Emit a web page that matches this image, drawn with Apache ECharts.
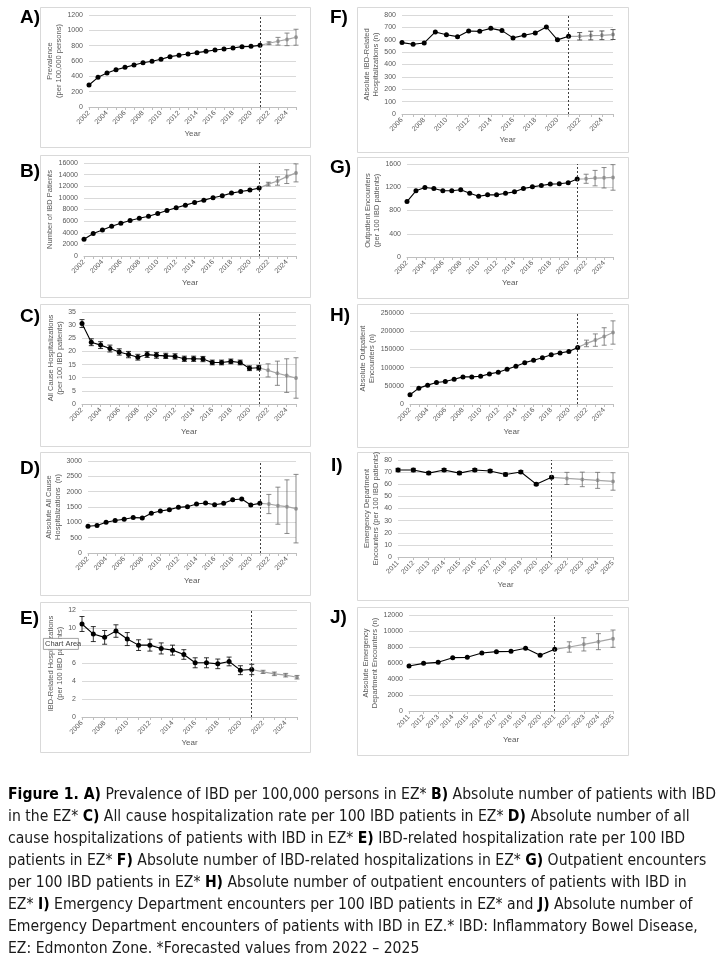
<!DOCTYPE html>
<html>
<head>
<meta charset="utf-8">
<script src="https://cdn.jsdelivr.net/npm/echarts@6/dist/echarts.min.js"></script>
<style>
  html, body { margin: 0; padding: 0; background: #fff; }
  #app { width: 720px; height: 960px; }
</style>
</head>
<body>
<div id="app"></div>
<script>
// year categories
var yrs2002 = ['2002','2003','2004','2005','2006','2007','2008','2009','2010','2011','2012','2013',
  '2014','2015','2016','2017','2018','2019','2020','2021','2022','2023','2024','2025'];
var yrs2006 = ['2006','2007','2008','2009','2010','2011','2012','2013','2014','2015','2016','2017',
  '2018','2019','2020','2021','2022','2023','2024','2025'];
var yrs2011 = ['2011','2012','2013','2014','2015','2016','2017','2018','2019','2020','2021',
  '2022','2023','2024','2025'];

// A) prevalence per 100,000
var prevObs = [287,387,443,487,517,548,578,596,622,657,674,691,709,726,743,757,770,787,791,804];
var prevFc = [832,858,882,910];
var prevFcErr = [18,50,82,104];

// B) number of IBD patients
var patObs = [2880,3860,4490,5120,5640,6100,6500,6850,7310,7830,8290,8750,9210,9610,10010,10360,10820,11110,11340,11680];
var patFc = [12370,12900,13650,14300];
var patFcErr = [320,720,1180,1550];

// C) all cause hospitalizations per 100 patients
var achObs = [30.6,23.5,22.4,21.1,19.8,18.8,17.8,18.8,18.5,18.3,18.1,17.2,17.2,17.1,15.8,15.8,16.2,15.8,13.6,13.8];
var achObsErr = [1.5,1.3,1.3,1.3,1.2,1.2,1.1,1.1,1.1,1.0,1.0,1.0,1.0,1.0,0.9,0.9,0.9,0.9,0.9,0.9];
var achFc = [12.8,11.7,10.8,9.9];
var achFcErr = [2.5,4.6,6.4,7.7];

// D) absolute all cause hospitalizations
var achnObs = [874,896,1004,1058,1101,1155,1144,1295,1371,1414,1489,1511,1597,1629,1576,1619,1737,1759,1565,1619];
var achnFc = [1597,1543,1511,1446];
var achnFcErr = [313,604,874,1117];

// E) IBD-related hospitalizations per 100 patients
var ibdhObs = [10.43,9.3,8.93,9.64,8.74,8.06,8.06,7.69,7.5,7.01,6.08,6.08,5.96,6.23,5.25,5.33];
var ibdhObsErr = [0.84,0.84,0.77,0.7,0.73,0.6,0.67,0.62,0.56,0.54,0.56,0.56,0.54,0.49,0.5,0.58];
var ibdhFc = [5.06,4.84,4.69,4.46];
var ibdhFcErr = [0.18,0.2,0.2,0.2];

// F) absolute IBD-related hospitalizations
var ibdhnObs = [577,564,574,663,641,625,671,668,692,674,615,636,655,703,599,628];
var ibdhnFc = [628,634,636,642];
var ibdhnFcErr = [30,35,35,40];

// G) outpatient encounters per 100 patients
var opObs = [954,1139,1196,1179,1139,1139,1156,1098,1045,1069,1069,1098,1121,1179,1207,1231,1254,1259,1277,1340];
var opFc = [1346,1357,1363,1369];
var opFcErr = [78,133,176,220];

// H) absolute outpatient encounters
var opnObs = [25500,43600,51800,59100,61800,68200,74500,74500,76400,82700,87300,95500,103600,113600,120000,127300,135500,140000,144500,155500];
var opnFc = [166400,175500,185500,196400];
var opnFcErr = [9000,17000,24000,32000];

// I) ED encounters per 100 patients
var edObs = [71.7,71.7,69.2,71.7,69.2,71.7,70.9,68.1,70.1,60.1,65.7];
var edObsErr = [1.4,1.4,1.3,1.3,1.3,1.3,1.3,1.2,1.2,1.0,1.0];
var edFc = [64.8,64.0,63.2,62.3];
var edFcErr = [5.0,6.0,6.6,7.2];

// J) absolute ED encounters
var ednObs = [5625,5958,6083,6667,6708,7250,7417,7458,7833,6958,7708];
var ednFc = [8000,8333,8667,9042];
var ednFcErr = [650,830,1000,1080];

var captionLines = [
  '{b|Figure 1. A)} Prevalence of IBD per 100,000 persons in EZ* {b|B)} Absolute number of patients with IBD',
  'in the EZ* {b|C)} All cause hospitalization rate per 100 IBD patients in EZ* {b|D)} Absolute number of all',
  'cause hospitalizations of patients with IBD in EZ* {b|E)} IBD-related hospitalization rate per 100 IBD',
  'patients in EZ* {b|F)} Absolute number of IBD-related hospitalizations in EZ* {b|G)} Outpatient encounters',
  'per 100 IBD patients in EZ* {b|H)} Absolute number of outpatient encounters of patients with IBD in',
  'EZ* {b|I)} Emergency Department encounters per 100 IBD patients in EZ* and {b|J)} Absolute number of',
  'Emergency Department encounters of patients with IBD in EZ.* IBD: Inflammatory Bowel Disease,',
  'EZ: Edmonton Zone. *Forecasted values from 2022 \u2013 2025'
];

var panels = [
  {letter:'A)', cats:yrs2002, obs:prevObs, fc:prevFc, fcErr:prevFcErr, max:1200, step:200, every:1,
   yName:'Prevalence\n(per 100,000 persons)', yGap:14, xGap:23,
   box:[40,7,270,140], grid:[89,15,207,92], lp:[20,18]},
  {letter:'B)', cats:yrs2002, obs:patObs, fc:patFc, fcErr:patFcErr, max:16000, step:2000, every:1,
   yName:'Number of IBD Patients', yGap:26, xGap:23,
   box:[40,155,270,142], grid:[84,163,212,93], lp:[20,172]},
  {letter:'C)', cats:yrs2002, obs:achObs, obsErr:achObsErr, fc:achFc, fcErr:achFcErr, max:35, step:5, every:1,
   yName:'All Cause Hospitalizations\n(per 100 IBD patients)', yGap:9, xGap:24,
   box:[40,304,270,142], grid:[82,312,214,92], lp:[20,317]},
  {letter:'D)', cats:yrs2002, obs:achnObs, fc:achnFc, fcErr:achnFcErr, max:3000, step:500, every:1,
   yName:'Absolute All Cause\nHospitalizations  (n)', yGap:13, xGap:24,
   box:[40,452,270,143], grid:[88,461,208,92], lp:[20,469]},
  {letter:'E)', cats:yrs2006, obs:ibdhObs, obsErr:ibdhObsErr, fc:ibdhFc, fcErr:ibdhFcErr, max:12, step:2, every:1,
   yName:'IBD-Related Hospitalizations\n(per 100 IBD patients)', yGap:18, xGap:21,
   box:[40,602,270,150], grid:[82,610,215,107], lp:[20,619]},
  {letter:'F)', cats:yrs2006, obs:ibdhnObs, fc:ibdhnFc, fcErr:ibdhnFcErr, max:800, step:100, every:1,
   yName:'Absolute IBD-Related\nHospitalizations (n)', yGap:9, xGap:20, barColor:'#333',
   box:[357,7,271,145], grid:[402,15,211,99], lp:[330,18]},
  {letter:'G)', cats:yrs2002, obs:opObs, fc:opFc, fcErr:opFcErr, max:1600, step:400, every:1,
   yName:'Outpatient Encounters\n(per 100 IBD patients)', yGap:15, xGap:22,
   box:[357,157,271,141], grid:[407,164,206,93], lp:[330,168]},
  {letter:'H)', cats:yrs2002, obs:opnObs, fc:opnFc, fcErr:opnFcErr, max:250000, step:50000, every:1,
   yName:'Absolute Outpatient\nEncounters (n)', yGap:15, xGap:24,
   box:[357,304,271,143], grid:[410,313,203,91], lp:[330,316]},
  {letter:'I)', cats:yrs2011, obs:edObs, obsErr:edObsErr, fc:edFc, fcErr:edFcErr, max:80, step:10, every:0,
   yName:'Emergency Department\nEncounters (per 100 IBD patients)', yGap:7, xGap:24,
   box:[357,452,271,148], grid:[398,460,215,97], lp:[331,466]},
  {letter:'J)', cats:yrs2011, obs:ednObs, fc:ednFc, fcErr:ednFcErr, max:12000, step:2000, every:0,
   yName:'Absolute Emergency\nDepartment Encounters (n)', yGap:16, xGap:25,
   box:[357,607,271,148], grid:[409,615,204,96], lp:[330,618]}
];

var labelColor = '#595959';
var fontFam = 'Liberation Sans, Arial, sans-serif';
var capFont = '"Liberation Sans Narrow", "DejaVu Sans Condensed", sans-serif';

function errRenderer(color) {
  return function (params, api) {
    var x = api.value(0);
    var lo = api.coord([x, api.value(1)]);
    var hi = api.coord([x, api.value(2)]);
    var w = 2.5;
    var st = { stroke: color, lineWidth: 0.8, fill: null };
    return { type: 'group', children: [
      { type: 'line', shape: { x1: lo[0], y1: lo[1], x2: hi[0], y2: hi[1] }, style: st },
      { type: 'line', shape: { x1: lo[0] - w, y1: lo[1], x2: lo[0] + w, y2: lo[1] }, style: st },
      { type: 'line', shape: { x1: hi[0] - w, y1: hi[1], x2: hi[0] + w, y2: hi[1] }, style: st }
    ]};
  };
}

var grids = [], xAxes = [], yAxes = [], series = [], graphics = [];

panels.forEach(function (p, i) {
  graphics.push({ type: 'rect', left: p.box[0], top: p.box[1], z: -10,
    shape: { width: p.box[2], height: p.box[3] },
    style: { fill: '#fff', stroke: '#d9d9d9', lineWidth: 1 } });
  graphics.push({ type: 'text', left: p.lp[0], top: p.lp[1] - 10,
    style: { text: p.letter, font: 'bold 19px ' + fontFam, fill: '#000' } });

  grids.push({ left: p.grid[0], top: p.grid[1], width: p.grid[2], height: p.grid[3] });
  xAxes.push({
    type: 'category', gridIndex: i, data: p.cats, boundaryGap: false,
    name: 'Year', nameLocation: 'middle', nameGap: p.xGap,
    nameTextStyle: { fontSize: 8, color: labelColor, fontFamily: fontFam },
    axisLine: { lineStyle: { color: '#bfbfbf' } },
    axisTick: { show: true, interval: 0, length: 3, lineStyle: { color: '#bfbfbf' } },
    axisLabel: { interval: p.every, rotate: 45, fontSize: 7, color: labelColor, margin: 5, fontFamily: fontFam }
  });
  yAxes.push({
    type: 'value', gridIndex: i, min: 0, max: p.max, interval: p.step,
    name: p.yName, nameLocation: 'middle', nameRotate: 90, nameGap: p.yGap,
    nameTextStyle: { fontSize: 7.5, color: labelColor, lineHeight: 9, fontFamily: fontFam },
    axisLine: { show: false }, axisTick: { show: false },
    splitLine: { lineStyle: { color: '#d9d9d9', width: 1 } },
    axisLabel: { fontSize: 7, color: labelColor, margin: 6, fontFamily: fontFam,
      formatter: function (v) { return String(v); } }
  });

  var nObs = p.obs.length;
  var fcYears = p.cats.slice(nObs);
  var obsFull = p.cats.map(function (c, k) { return k < nObs ? p.obs[k] : '-'; });
  var fcFull = p.cats.map(function (c, k) {
    if (k < nObs - 1) return '-';
    if (k === nObs - 1) return p.obs[k];
    return p.fc[k - nObs];
  });

  series.push({
    type: 'line', xAxisIndex: i, yAxisIndex: i, data: fcFull, z: 2,
    symbol: 'circle', symbolSize: 4, showAllSymbol: true,
    lineStyle: { color: '#a6a6a6', width: 1.2 }, itemStyle: { color: '#a6a6a6' }
  });
  series.push({
    type: 'custom', xAxisIndex: i, yAxisIndex: i, z: 3,
    renderItem: errRenderer(p.barColor || '#6d6d6d'),
    encode: { x: 0, y: [1, 2] },
    data: fcYears.map(function (y, k) { return [y, p.fc[k] - p.fcErr[k], p.fc[k] + p.fcErr[k]]; })
  });
  if (p.obsErr) {
    series.push({
      type: 'custom', xAxisIndex: i, yAxisIndex: i, z: 3,
      renderItem: errRenderer('#000'),
      encode: { x: 0, y: [1, 2] },
      data: p.obs.map(function (v, k) { return [p.cats[k], v - p.obsErr[k], v + p.obsErr[k]]; })
    });
  }
  series.push({
    type: 'line', xAxisIndex: i, yAxisIndex: i, data: obsFull, z: 4,
    symbol: 'circle', symbolSize: 5, showAllSymbol: true,
    lineStyle: { color: '#000', width: 1.1 }, itemStyle: { color: '#000' },
    markLine: {
      silent: true, symbol: 'none', label: { show: false },
      lineStyle: { color: '#404040', type: [2, 2], width: 1 },
      data: [{ xAxis: p.cats[nObs - 1] }]
    }
  });
});

// "Chart Area" tooltip captured in panel E
graphics.push({ type: 'rect', left: 43, top: 638, z: 50,
  shape: { width: 35, height: 11 }, style: { fill: '#fff', stroke: '#8c8c8c', lineWidth: 0.8 } });
graphics.push({ type: 'text', left: 45, top: 640, z: 51,
  style: { text: 'Chart Area', font: '7.5px ' + fontFam, fill: '#404040' } });

// caption
graphics.push({ type: 'text', left: 8, top: 784,
  style: {
    text: captionLines.join('\n'),
    font: '15.6px ' + capFont,
    fill: '#1a1a1a', lineHeight: 22,
    rich: { b: { fontWeight: 'bold', fontSize: 15.6, lineHeight: 22, fontFamily: capFont, fill: '#000' } }
  } });

var chart = echarts.init(document.getElementById('app'));
chart.setOption({
  animation: false,
  backgroundColor: '#fff',
  grid: grids,
  xAxis: xAxes,
  yAxis: yAxes,
  series: series,
  graphic: graphics
});
</script>
</body>
</html>
